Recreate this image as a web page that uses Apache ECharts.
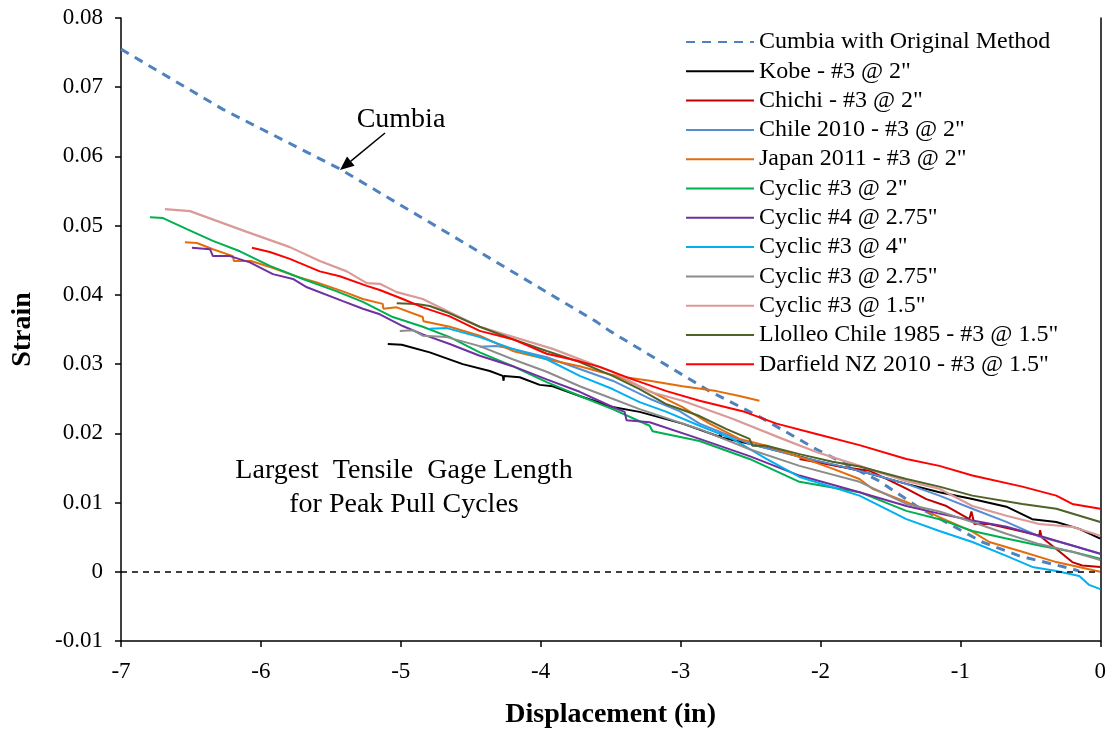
<!DOCTYPE html>
<html>
<head>
<meta charset="utf-8">
<title>Strain vs Displacement</title>
<script src="https://cdn.jsdelivr.net/npm/echarts@6/dist/echarts.min.js"></script>
<style>
    html, body { margin: 0; padding: 0; background: #fff; }
    #chart { width: 1109px; height: 734px; }
</style>
</head>
<body>
<div id="chart"></div>
<script>
// axis ticks
var xTicks = [-7, -6, -5, -4, -3, -2, -1, 0];
var yTicks = [-0.01, 0, 0.01, 0.02, 0.03, 0.04, 0.05, 0.06, 0.07, 0.08];

// series names, in legend order
var names = [
    'Cumbia with Original Method',
    'Kobe - #3 @ 2"',
    'Chichi - #3 @ 2"',
    'Chile 2010 - #3 @ 2"',
    'Japan 2011 - #3 @ 2"',
    'Cyclic #3 @ 2"',
    'Cyclic #4 @ 2.75"',
    'Cyclic #3 @ 4"',
    'Cyclic #3 @ 2.75"',
    'Cyclic #3 @ 1.5"',
    'Llolleo Chile 1985 - #3 @ 1.5"',
    'Darfield NZ 2010 - #3 @ 1.5"'
];

// [displacement (in), strain]
var cumbia = [[-7, 0.0755], [-6.271, 0.0668], [-5.436, 0.0582], [-4.629, 0.0485], [-3.6, 0.0361],
    [-3.507, 0.0348], [-2.793, 0.0261], [-2.436, 0.0224], [-2.029, 0.0177], [-1.579, 0.0131],
    [-1.314, 0.0095], [-0.843, 0.0043], [-0.579, 0.0023], [-0.2, 0.0004], [-0.15, 0.0001]];

var kobe = [[-5.093, 0.0329], [-4.993, 0.0328], [-4.793, 0.0317], [-4.557, 0.0300], [-4.364, 0.0290],
    [-4.271, 0.0283], [-4.265, 0.0276], [-4.262, 0.0283], [-4.15, 0.0281], [-4.007, 0.0270], [-3.914, 0.0268],
    [-3.721, 0.0254], [-3.486, 0.0238], [-3.293, 0.0231], [-2.986, 0.0214], [-2.721, 0.0195],
    [-2.715, 0.0202], [-2.71, 0.0194], [-2.507, 0.0185], [-2.271, 0.0173], [-2.029, 0.0160],
    [-1.721, 0.0146], [-1.386, 0.0127], [-1.15, 0.0115], [-0.914, 0.0105], [-0.671, 0.0094],
    [-0.486, 0.0076], [-0.314, 0.0072], [-0.15, 0.0062], [0, 0.0048]];

var chichi = [[-2.15, 0.0163], [-1.864, 0.0152], [-1.65, 0.0146], [-1.386, 0.0120], [-1.243, 0.0105],
    [-1.1, 0.0095], [-0.936, 0.0076], [-0.921, 0.0087], [-0.9, 0.0069], [-0.793, 0.0069],
    [-0.557, 0.0058], [-0.436, 0.0052], [-0.43, 0.0060], [-0.42, 0.0050], [-0.314, 0.0033],
    [-0.2, 0.0014], [-0.129, 0.0009], [0, 0.0007]];

var chile = [[-4.436, 0.0325], [-4.314, 0.0326], [-4.2, 0.0322], [-3.957, 0.0310], [-3.721, 0.0293],
    [-3.486, 0.0276], [-3.221, 0.0250], [-3.007, 0.0232], [-2.864, 0.0214], [-2.507, 0.0185],
    [-2.15, 0.0166], [-1.864, 0.0153], [-1.629, 0.0141], [-1.386, 0.0127], [-1.15, 0.0110],
    [-0.914, 0.0091], [-0.671, 0.0072], [-0.436, 0.0051], [-0.2, 0.0038], [0, 0.0026]];

// Japan 2011 splits into two branches near -3.5 in
var japanUpper = [[-6.543, 0.0476], [-6.457, 0.0475], [-6.343, 0.0466], [-6.2, 0.0456], [-6.193, 0.0449],
    [-6.071, 0.0449], [-5.929, 0.0440], [-5.736, 0.0426], [-5.6, 0.0418], [-5.414, 0.0405],
    [-5.271, 0.0394], [-5.129, 0.0387], [-5.125, 0.0380], [-5.029, 0.0382], [-4.843, 0.0368],
    [-4.838, 0.0362], [-4.65, 0.0354], [-4.436, 0.0341], [-4.2, 0.0319], [-3.957, 0.0307],
    [-3.721, 0.0297], [-3.579, 0.0289], [-3.457, 0.0283], [-3.221, 0.0276], [-2.986, 0.0268],
    [-2.743, 0.0261], [-2.579, 0.0254], [-2.436, 0.0247]];
var japanLower = [[-3.457, 0.0283], [-3.221, 0.0261], [-2.986, 0.0238], [-2.793, 0.0214],
    [-2.579, 0.0192], [-2.386, 0.0182], [-2.15, 0.0166], [-1.914, 0.0149], [-1.721, 0.0134],
    [-1.629, 0.0120], [-1.386, 0.0101], [-1.15, 0.0079], [-0.914, 0.0058], [-0.793, 0.0043],
    [-0.557, 0.0029], [-0.314, 0.0014], [0, 0.0000]];

var cyclic3at2 = [[-6.793, 0.0512], [-6.7, 0.0511], [-6.529, 0.0495], [-6.343, 0.0478], [-6.15, 0.0463],
    [-5.936, 0.0442], [-5.7, 0.0423], [-5.457, 0.0405], [-5.271, 0.0390], [-5.057, 0.0368],
    [-4.843, 0.0354], [-4.65, 0.0339], [-4.436, 0.0317], [-4.2, 0.0297], [-3.957, 0.0274],
    [-3.721, 0.0254], [-3.486, 0.0235], [-3.221, 0.0211], [-3.2, 0.0203], [-2.864, 0.0189],
    [-2.507, 0.0163], [-2.15, 0.0130], [-1.721, 0.0115], [-1.386, 0.0088], [-1.15, 0.0076],
    [-0.914, 0.0059], [-0.671, 0.0048], [-0.436, 0.0038], [-0.2, 0.0029], [0, 0.0019]];

var cyclic4at275 = [[-6.493, 0.0468], [-6.364, 0.0466], [-6.343, 0.0456], [-6.221, 0.0456], [-6.079, 0.0447],
    [-5.914, 0.0430], [-5.771, 0.0423], [-5.671, 0.0411], [-5.414, 0.0391], [-5.271, 0.0380],
    [-5.15, 0.0372], [-4.986, 0.0355], [-4.843, 0.0343], [-4.65, 0.0329], [-4.436, 0.0312],
    [-4.2, 0.0297], [-3.957, 0.0278], [-3.721, 0.0260], [-3.486, 0.0238], [-3.4, 0.0231],
    [-3.386, 0.0219], [-3.221, 0.0216], [-2.864, 0.0192], [-2.507, 0.0167], [-2.15, 0.0139],
    [-1.721, 0.0115], [-1.386, 0.0095], [-1.15, 0.0084], [-0.914, 0.0074], [-0.671, 0.0065],
    [-0.436, 0.0052], [-0.2, 0.0038], [0, 0.0026]];

var cyclic3at4 = [[-4.793, 0.0351], [-4.671, 0.0352], [-4.436, 0.0339], [-4.2, 0.0322], [-3.957, 0.0307],
    [-3.721, 0.0283], [-3.486, 0.0264], [-3.293, 0.0245], [-3.1, 0.0231], [-2.864, 0.0211],
    [-2.629, 0.0192], [-2.386, 0.0163], [-2.15, 0.0137], [-1.721, 0.0110], [-1.386, 0.0076],
    [-1.15, 0.0059], [-0.914, 0.0043], [-0.671, 0.0023], [-0.486, 0.0007], [-0.314, 0.0001],
    [-0.15, -0.0006], [-0.079, -0.0019], [0, -0.0025]];

var cyclic3at275 = [[-5.007, 0.0348], [-4.914, 0.0349], [-4.843, 0.0341], [-4.671, 0.0339], [-4.436, 0.0326],
    [-4.2, 0.0307], [-3.957, 0.0289], [-3.721, 0.0268], [-3.486, 0.0250], [-3.293, 0.0235],
    [-2.864, 0.0206], [-2.507, 0.0177], [-2.15, 0.0153], [-1.721, 0.0130], [-1.386, 0.0098],
    [-1.15, 0.0087], [-0.914, 0.0072], [-0.671, 0.0055], [-0.436, 0.0040], [-0.2, 0.0029], [0, 0.0017]];

var cyclic3at15 = [[-6.686, 0.0524], [-6.507, 0.0521], [-6.1, 0.0491], [-5.793, 0.0469], [-5.579, 0.0449],
    [-5.386, 0.0434], [-5.243, 0.0417], [-5.15, 0.0416], [-5.029, 0.0404], [-4.843, 0.0394],
    [-4.65, 0.0375], [-4.436, 0.0354], [-3.914, 0.0322], [-3.486, 0.0289], [-3.221, 0.0260],
    [-2.986, 0.0247], [-2.629, 0.0221], [-2.271, 0.0192], [-2.029, 0.0173], [-1.721, 0.0153],
    [-1.386, 0.0131], [-1.15, 0.0120], [-0.914, 0.0095], [-0.671, 0.0081], [-0.436, 0.0069],
    [-0.2, 0.0065], [0, 0.0052]];

var llolleo = [[-5.029, 0.0388], [-4.886, 0.0387], [-4.793, 0.0384], [-4.671, 0.0375], [-4.436, 0.0354],
    [-4.2, 0.0336], [-3.957, 0.0319], [-3.721, 0.0303], [-3.486, 0.0283], [-3.293, 0.0264],
    [-3.1, 0.0242], [-2.864, 0.0225], [-2.671, 0.0206], [-2.507, 0.0192], [-2.486, 0.0182],
    [-2.386, 0.0182], [-2.15, 0.0170], [-1.914, 0.0159], [-1.721, 0.0152], [-1.386, 0.0134],
    [-1.15, 0.0123], [-0.914, 0.0110], [-0.557, 0.0098], [-0.314, 0.0091], [0, 0.0072]];

var darfield = [[-6.064, 0.0468], [-5.936, 0.0462], [-5.793, 0.0452], [-5.579, 0.0434], [-5.436, 0.0427],
    [-5.243, 0.0413], [-5.15, 0.0407], [-4.986, 0.0394], [-4.843, 0.0382], [-4.65, 0.0369],
    [-4.436, 0.0348], [-4.2, 0.0336], [-3.957, 0.0315], [-3.721, 0.0304], [-3.579, 0.0296],
    [-3.343, 0.0278], [-3.1, 0.0261], [-2.864, 0.0247], [-2.557, 0.0232], [-2.314, 0.0214],
    [-2.029, 0.0199], [-1.721, 0.0183], [-1.386, 0.0163], [-1.15, 0.0153], [-0.914, 0.0139],
    [-0.557, 0.0123], [-0.314, 0.0110], [-0.2, 0.0098], [0, 0.0091]];

var FONT = 'Liberation Serif';

var chart = echarts.init(document.getElementById('chart'));

/**
 * build a plain line series
 *
 * @param {string} name   legend name
 * @param {Array} data    [x, y] pairs
 * @param {string} color  line color
 * @param {number} width  line width
 * @return {Object} series option
 */
function line(name, data, color, width) {
    return {
        type: 'line',
        name: name,
        data: data,
        symbol: 'none',
        smooth: false,
        lineStyle: { color: color, width: width || 2 },
        itemStyle: { color: color }
    };
}

var series = [
    {
        type: 'line',
        name: names[0],
        data: cumbia,
        symbol: 'none',
        lineStyle: { color: '#4F81BD', width: 3, type: [9, 7] },
        itemStyle: { color: '#4F81BD' },
        markLine: {
            silent: true,
            symbol: ['none', 'none'],
            label: { show: false },
            lineStyle: { color: '#000', width: 1.5, type: [6, 5] },
            data: [{ yAxis: 0 }]
        }
    },
    line(names[1], kobe, '#000000'),
    line(names[2], chichi, '#C00000'),
    line(names[3], chile, '#558ED5'),
    line(names[4], japanUpper, '#E46C0A'),
    line(names[4], japanLower, '#E46C0A'),
    line(names[5], cyclic3at2, '#00B050'),
    line(names[6], cyclic4at275, '#7030A0'),
    line(names[7], cyclic3at4, '#00B0F0'),
    line(names[8], cyclic3at275, '#8C8C8C'),
    line(names[9], cyclic3at15, '#DA9A98', 2.2),
    line(names[10], llolleo, '#4F6228'),
    line(names[11], darfield, '#FF0000')
];

// arrow pointing from the "Cumbia" label to the dashed line
var tail = [385, 133];
var tip = [340, 170];
var dx = tip[0] - tail[0];
var dy = tip[1] - tail[1];
var len = Math.sqrt(dx * dx + dy * dy);
var ux = dx / len;
var uy = dy / len;
var base = [tip[0] - 14 * ux, tip[1] - 14 * uy];

chart.setOption({
    animation: false,
    backgroundColor: '#fff',
    textStyle: { fontFamily: FONT, color: '#000' },
    grid: { left: 121, right: 8, top: 18, bottom: 92 },
    legend: {
        data: names,
        orient: 'vertical',
        left: 680,
        top: 25,
        itemWidth: 68,
        itemHeight: 14,
        itemGap: 5.3,
        // hide the marker dot, keep the line
        itemStyle: { opacity: 0 },
        textStyle: { fontFamily: FONT, fontSize: 24, color: '#000', lineHeight: 24 },
        selectedMode: false
    },
    xAxis: {
        type: 'value',
        min: -7,
        max: 0,
        interval: 1,
        name: 'Displacement (in)',
        nameLocation: 'middle',
        nameGap: 60,
        nameTextStyle: { fontFamily: FONT, fontSize: 28, fontWeight: 'bold', color: '#000' },
        axisLine: { onZero: false, lineStyle: { color: '#000', width: 1.5 } },
        axisTick: { show: true, length: 6, lineStyle: { color: '#000', width: 1.5 } },
        axisLabel: {
            margin: 19,
            fontFamily: FONT,
            fontSize: 23,
            color: '#000',
            formatter: function (v) {
                return xTicks.indexOf(v) >= 0 ? String(v) : '';
            }
        },
        splitLine: { show: false }
    },
    yAxis: [
        {
            type: 'value',
            min: -0.01,
            max: 0.08,
            interval: 0.01,
            name: 'Strain',
            nameLocation: 'middle',
            nameGap: 84,
            nameTextStyle: { fontFamily: FONT, fontSize: 28, fontWeight: 'bold', color: '#000' },
            axisLine: { show: true, onZero: false, lineStyle: { color: '#000', width: 1.5 } },
            axisTick: { show: true, length: 6, lineStyle: { color: '#000', width: 1.5 } },
            axisLabel: {
                margin: 18,
                fontFamily: FONT,
                fontSize: 23,
                color: '#000',
                formatter: function (v) {
                    var r = Math.round(v * 100) / 100;
                    return r === 0 ? '0' : r.toFixed(2);
                }
            },
            splitLine: { show: false }
        },
        {
            type: 'value',
            position: 'right',
            min: -0.01,
            max: 0.08,
            interval: 0.01,
            axisLine: { show: true, onZero: false, lineStyle: { color: '#000', width: 1.5 } },
            axisTick: { show: false },
            axisLabel: { show: false },
            splitLine: { show: false }
        }
    ],
    graphic: [
        {
            type: 'text',
            x: 401,
            y: 120,
            style: {
                text: 'Cumbia',
                font: '28px "Liberation Serif"',
                fill: '#000',
                align: 'center',
                verticalAlign: 'middle'
            }
        },
        {
            type: 'line',
            shape: { x1: tail[0], y1: tail[1], x2: base[0], y2: base[1] },
            style: { stroke: '#000', lineWidth: 1.5 }
        },
        {
            type: 'polygon',
            shape: {
                points: [
                    tip,
                    [base[0] - 6 * uy, base[1] + 6 * ux],
                    [base[0] + 6 * uy, base[1] - 6 * ux]
                ]
            },
            style: { fill: '#000' }
        },
        {
            type: 'text',
            x: 404,
            y: 471,
            style: {
                text: 'Largest  Tensile  Gage Length',
                font: '28px "Liberation Serif"',
                fill: '#000',
                align: 'center',
                verticalAlign: 'middle'
            }
        },
        {
            type: 'text',
            x: 404,
            y: 505,
            style: {
                text: 'for Peak Pull Cycles',
                font: '28px "Liberation Serif"',
                fill: '#000',
                align: 'center',
                verticalAlign: 'middle'
            }
        }
    ],
    series: series
});
</script>
</body>
</html>
